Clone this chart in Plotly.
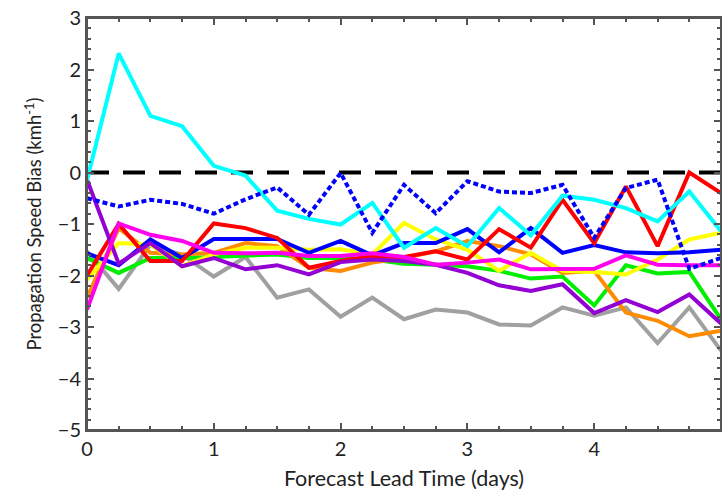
import plotly.graph_objects as go

# forecast lead time (days), every 6 h
lead_days = [0, 0.25, 0.5, 0.75, 1.0, 1.25, 1.5, 1.75, 2.0, 2.25, 2.5,
             2.75, 3.0, 3.25, 3.5, 3.75, 4.0, 4.25, 4.5, 4.75, 5.0]

# propagation speed bias (km/h) per model
cyan = [-0.15, 2.31, 1.10, 0.90, 0.13, -0.06, -0.74, -0.90, -1.01, -0.59, -1.46,
        -1.08, -1.43, -0.69, -1.22, -0.45, -0.53, -0.69, -0.95, -0.37, -1.14]
blue_dot = [-0.50, -0.66, -0.53, -0.61, -0.80, -0.52, -0.29, -0.82, -0.01, -1.17, -0.24,
            -0.79, -0.17, -0.37, -0.40, -0.24, -1.27, -0.30, -0.14, -1.87, -1.66]
red = [-2.0, -1.0, -1.72, -1.72, -0.99, -1.08, -1.27, -1.85, -1.72, -1.62, -1.64,
       -1.53, -1.69, -1.10, -1.46, -0.53, -1.37, -0.27, -1.43, 0.0, -0.40]
blue = [-1.57, -1.80, -1.30, -1.66, -1.29, -1.29, -1.29, -1.56, -1.33, -1.61, -1.37,
        -1.37, -1.10, -1.55, -1.08, -1.56, -1.41, -1.55, -1.57, -1.55, -1.50]
yellow = [-2.08, -1.37, -1.40, -1.82, -1.59, -1.46, -1.46, -1.50, -1.49, -1.59, -0.98,
          -1.30, -1.50, -1.91, -1.56, -1.91, -1.93, -1.98, -1.69, -1.30, -1.17]
orange = [-2.43, -1.08, -1.56, -1.59, -1.56, -1.37, -1.43, -1.85, -1.91, -1.75, -1.66,
          -1.53, -1.33, -1.43, -1.59, -1.95, -1.91, -2.72, -2.88, -3.18, -3.07]
green = [-1.66, -1.95, -1.66, -1.66, -1.64, -1.61, -1.59, -1.66, -1.66, -1.69, -1.77,
         -1.79, -1.82, -1.91, -2.06, -2.02, -2.58, -1.80, -1.96, -1.93, -2.85]
magenta = [-2.66, -0.99, -1.21, -1.33, -1.56, -1.57, -1.56, -1.62, -1.62, -1.57, -1.64,
           -1.79, -1.75, -1.69, -1.88, -1.87, -1.87, -1.61, -1.79, -1.80, -1.80]
purple = [-0.14, -1.77, -1.37, -1.82, -1.66, -1.88, -1.80, -1.98, -1.74, -1.69, -1.72,
          -1.79, -1.95, -2.19, -2.30, -2.17, -2.73, -2.48, -2.71, -2.37, -2.93]
gray = [-1.53, -2.26, -1.40, -1.60, -2.02, -1.64, -2.43, -2.27, -2.80, -2.43, -2.85,
        -2.66, -2.72, -2.95, -2.97, -2.62, -2.78, -2.62, -3.31, -2.62, -3.46]

series = [
    (gray, "#a0a0a0", "solid"),
    (green, "#00ee00", "solid"),
    (orange, "#ff8c00", "solid"),
    (yellow, "#ffff00", "solid"),
    (blue, "#0000ff", "solid"),
    (red, "#ff0000", "solid"),
    (purple, "#9400d3", "solid"),
    (magenta, "#ff00ee", "solid"),
    (cyan, "#00ffff", "solid"),
    (blue_dot, "#0000ff", "5px,3px"),
]

fig = go.Figure()
fig.add_trace(go.Scatter(x=[lead_days[0], lead_days[-1]], y=[0, 0], mode="lines",
                         line=dict(color="black", width=4, dash="22px,14px"),
                         showlegend=False))
for vals, col, dash in series:
    fig.add_trace(go.Scatter(x=lead_days, y=vals, mode="lines",
                             line=dict(color=col, width=4, dash=dash),
                             showlegend=False))

axis_common = dict(showline=True, linecolor="#555555", linewidth=2, mirror="ticks",
                   ticks="inside", tickcolor="#555555", ticklen=7, tickwidth=1.5,
                   showgrid=False, zeroline=False, automargin=False,
                   tickfont=dict(size=20, color="#222222"))

fig.update_xaxes(range=[0, 5], dtick=1,
                 minor=dict(dtick=0.25, ticks="inside", ticklen=4, tickcolor="#555555"),
                 title=dict(text="Forecast Lead Time (days)", font=dict(size=21.5, color="#222222"),
                            standoff=14),
                 **axis_common)
fig.update_yaxes(range=[-5, 3], dtick=1,
                 minor=dict(dtick=0.2, ticks="inside", ticklen=4, tickcolor="#555555"),
                 title=dict(text="Propagation Speed Bias (kmh<sup>-1</sup>)",
                            font=dict(size=18.5, color="#222222"), standoff=11),
                 **axis_common)

# plot frame (top/right edges)
fig.add_shape(type="rect", xref="paper", yref="paper", x0=0, x1=1, y0=0, y1=1,
              line=dict(color="#555555", width=2), layer="above")

fig.update_layout(
    width=722, height=491,
    margin=dict(l=87, r=1, t=18, b=61),
    plot_bgcolor="white", paper_bgcolor="white",
    font=dict(family="Lato", color="#222222"),
)

# drop the default page margin so the figure sits at the window's corner
fig.write_html("out.html", config={"displayModeBar": False},
               post_script="document.body.style.margin='0';document.body.style.overflow='hidden';")
